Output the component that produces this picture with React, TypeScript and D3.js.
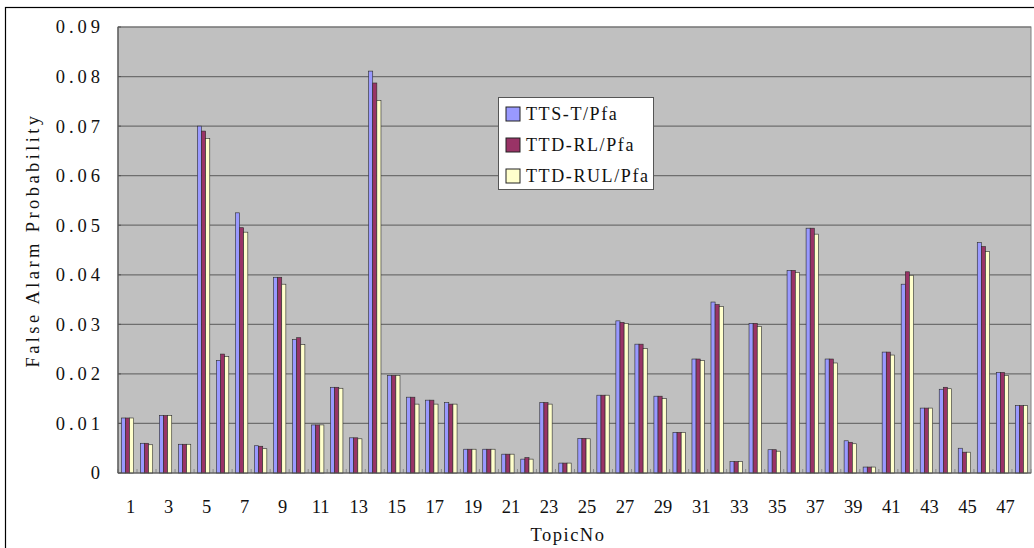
import React from "react";
import * as d3 from "d3";

const topics: number[] = Array.from({ length: 48 }, (_, i) => i + 1);
const seriesNames: string[] = ["TTS-T/Pfa", "TTD-RL/Pfa", "TTD-RUL/Pfa"];
const seriesColors: string[] = ["#9999FF", "#993366", "#FFFFCC"];

const ttsT: number[] = [
  0.0111, 0.0060, 0.0116, 0.0058, 0.0700, 0.0227, 0.0525, 0.0055, 0.0395, 0.0269,
  0.0097, 0.0173, 0.0071, 0.0811, 0.0197, 0.0153, 0.0147, 0.0142, 0.0048, 0.0048,
  0.0038, 0.0028, 0.0142, 0.0020, 0.0070, 0.0157, 0.0307, 0.0260, 0.0155, 0.0082,
  0.0230, 0.0345, 0.0023, 0.0302, 0.0047, 0.0409, 0.0494, 0.0230, 0.0065, 0.0012,
  0.0244, 0.0381, 0.0131, 0.0169, 0.0050, 0.0465, 0.0203, 0.0136,
];
const ttdRL: number[] = [
  0.0111, 0.0060, 0.0116, 0.0058, 0.0690, 0.0240, 0.0495, 0.0054, 0.0395, 0.0273,
  0.0097, 0.0173, 0.0071, 0.0787, 0.0197, 0.0153, 0.0147, 0.0139, 0.0048, 0.0048,
  0.0038, 0.0031, 0.0142, 0.0020, 0.0070, 0.0157, 0.0304, 0.0260, 0.0155, 0.0082,
  0.0230, 0.0340, 0.0023, 0.0302, 0.0047, 0.0409, 0.0494, 0.0230, 0.0062, 0.0012,
  0.0244, 0.0406, 0.0131, 0.0173, 0.0042, 0.0457, 0.0203, 0.0136,
];
const ttdRUL: number[] = [
  0.0111, 0.0057, 0.0116, 0.0058, 0.0675, 0.0235, 0.0486, 0.0049, 0.0381, 0.0259,
  0.0097, 0.0171, 0.0069, 0.0752, 0.0197, 0.0139, 0.0139, 0.0139, 0.0048, 0.0048,
  0.0038, 0.0028, 0.0139, 0.0020, 0.0069, 0.0157, 0.0302, 0.0251, 0.0150, 0.0082,
  0.0227, 0.0336, 0.0023, 0.0296, 0.0044, 0.0405, 0.0482, 0.0222, 0.0059, 0.0012,
  0.0238, 0.0399, 0.0131, 0.0170, 0.0042, 0.0447, 0.0197, 0.0136,
];
const yTicks: number[] = [0, 0.01, 0.02, 0.03, 0.04, 0.05, 0.06, 0.07, 0.08, 0.09];
const xTickLabels: number[] = topics.filter((t) => t % 2 === 1);

const W = 1034;
const H = 548;
const left = 118;
const right = 1031;
const top = 27;
const bottom = 473;
const FONT = "'Liberation Serif', 'DejaVu Serif', serif";

export default function App() {
  const series = [ttsT, ttdRL, ttdRUL];
  const x = d3
    .scaleBand<number>()
    .domain(topics)
    .range([left, right])
    .paddingInner(0.35)
    .paddingOuter(0.175);
  const xi = d3
    .scaleBand<number>()
    .domain([0, 1, 2])
    .range([0, x.bandwidth()]);
  const y = d3.scaleLinear().domain([0, 0.09]).range([bottom, top]);
  const step = x.step();

  const fmt = (v: number) => (v === 0 ? "0" : v.toFixed(2));

  return (
    <svg
      width={W}
      height={H}
      style={{ position: "absolute", left: 0, top: 0, background: "#fff" }}
      fontFamily={FONT}
    >
      <rect x={5.5} y={7.5} width={W + 10} height={H + 10} fill="#fff" stroke="#000" strokeWidth={1.2} />
      <rect x={left} y={top} width={right - left} height={bottom - top} fill="#C0C0C0" stroke="#808080" strokeWidth={1} />
      {yTicks.map((t) => (
        <g key={"g" + t}>
          {t > 0 && (
            <line x1={left} x2={right} y1={y(t)} y2={y(t)} stroke="#6e6e6e" strokeWidth={1.2} />
          )}
          <line x1={left} x2={left + 3} y1={y(t)} y2={y(t)} stroke="#555" />
          <text
            x={104}
            y={y(t)}
            dy="0.35em"
            textAnchor="end"
            fontSize={18.5}
            letterSpacing={4}
            fill="#111"
          >
            {fmt(t)}
          </text>
        </g>
      ))}
      {d3.range(topics.length + 1).map((i) => (
        <line
          key={"ct" + i}
          x1={left + i * step}
          x2={left + i * step}
          y1={bottom}
          y2={bottom - 4}
          stroke="#8a8a8a"
          strokeWidth={1}
        />
      ))}
      {topics.map((t, ti) => (
        <g key={"b" + t} transform={`translate(${x(t)},0)`}>
          {series.map((s, si) => (
            <rect
              key={si}
              x={xi(si)}
              y={y(s[ti])}
              width={xi.bandwidth()}
              height={bottom - y(s[ti])}
              fill={seriesColors[si]}
              stroke="#2a2a2a"
              strokeWidth={0.6}
            />
          ))}
        </g>
      ))}
      <line x1={left} x2={right} y1={bottom} y2={bottom} stroke="#555" strokeWidth={1.2} />
      <line x1={left} x2={left} y1={top} y2={bottom} stroke="#555" strokeWidth={1.2} />
      {xTickLabels.map((t) => (
        <text
          key={"xl" + t}
          x={(x(t) as number) + x.bandwidth() / 2 + 3}
          y={513}
          textAnchor="middle"
          fontSize={18.5}
          fill="#111"
        >
          {t}
        </text>
      ))}
      <text x={568} y={541} textAnchor="middle" fontSize={18.5} letterSpacing={1.5} fill="#111">
        TopicNo
      </text>
      <text
        transform={`translate(39,${240}) rotate(-90)`}
        textAnchor="middle"
        fontSize={18.5}
        letterSpacing={3.4}
        fill="#111"
      >
        False Alarm Probability
      </text>
      <g>
        <rect x={498.5} y={97.5} width={155} height={92} fill="#fff" stroke="#555" strokeWidth={1} />
        {seriesNames.map((n, i) => (
          <g key={n} transform={`translate(506,${107 + i * 31})`}>
            <rect x={0} y={0} width={14} height={14} fill={seriesColors[i]} stroke="#222" strokeWidth={1} />
            <text x={20} y={7} dy="0.35em" fontSize={18} letterSpacing={1.6} fill="#111">
              {n}
            </text>
          </g>
        ))}
      </g>
    </svg>
  );
}
